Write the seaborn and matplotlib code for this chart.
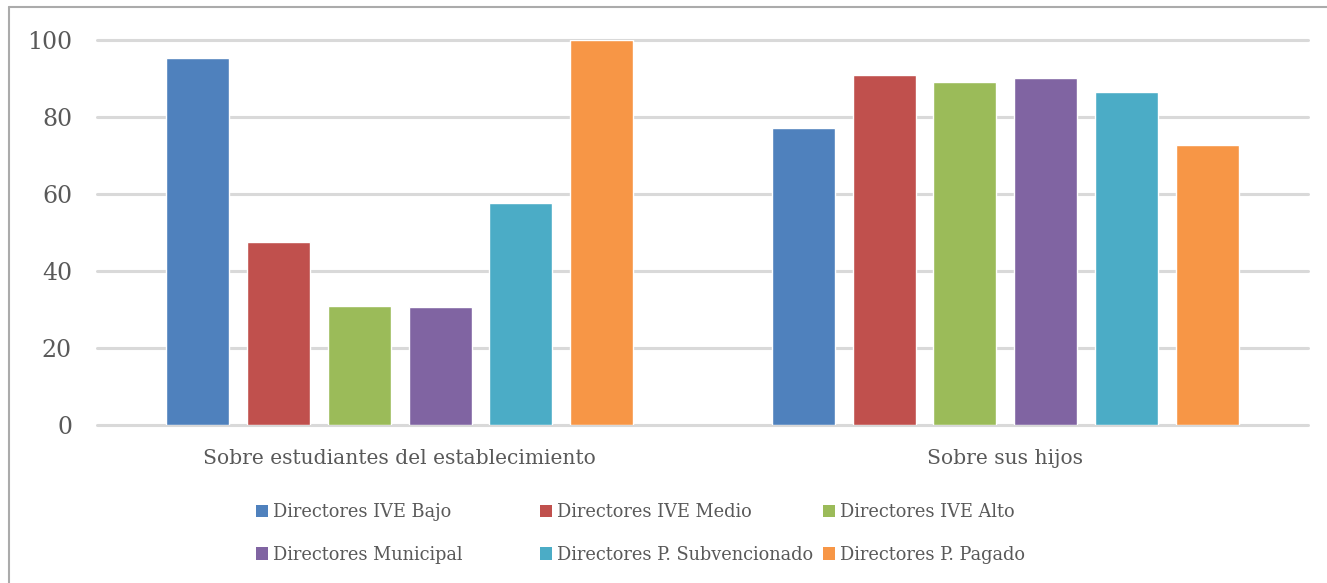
import matplotlib
matplotlib.use("Agg")
import matplotlib.pyplot as plt
import seaborn as sns
import pandas as pd
from matplotlib.patches import Patch

# Data
categories = ["Sobre estudiantes del establecimiento", "Sobre sus hijos"]
series = ["Directores IVE Bajo", "Directores IVE Medio", "Directores IVE Alto",
          "Directores Municipal", "Directores P. Subvencionado", "Directores P. Pagado"]
estudiantes = [95.3, 47.6, 30.9, 30.6, 57.7, 100.0]
hijos = [77.1, 90.8, 89.0, 90.1, 86.6, 72.7]
colors = ["#4F81BD", "#C0504D", "#9BBB59", "#8064A2", "#4BACC6", "#F79646"]
yticks = [0, 20, 40, 60, 80, 100]

text_color = "#595959"
grid_color = "#D9D9D9"

df = pd.DataFrame({
    "categoria": [categories[0]] * len(series) + [categories[1]] * len(series),
    "serie": series * 2,
    "valor": estudiantes + hijos,
})

sns.set_style("white")
plt.rcParams["font.family"] = ["DejaVu Serif"]

fig = plt.figure(figsize=(13.27, 5.83), dpi=100)
ax = fig.add_axes([97 / 1327, 1 - 425 / 583, (1308 - 97) / 1327, (425 - 40) / 583])

sns.barplot(data=df, x="categoria", y="valor", hue="serie", order=categories,
            hue_order=series, palette=colors, width=0.8, gap=0.22,
            saturation=1, legend=False, ax=ax, zorder=3)

ax.set_ylim(0, 100)
ax.set_xlim(-0.5, 1.5)
ax.set_yticks(yticks)
ax.set_yticklabels([str(v) for v in yticks])
for v in yticks:
    ax.axhline(v, color=grid_color, lw=2.2, zorder=1, clip_on=False)
ax.set_xlabel("")
ax.set_ylabel("")
for s in ax.spines.values():
    s.set_visible(False)
ax.tick_params(axis="y", length=0, pad=18, labelsize=17, labelcolor=text_color)
ax.tick_params(axis="x", length=0, pad=17, labelsize=14.6, labelcolor=text_color)

# legend: three columns laid out row-wise like the original
handles = [Patch(facecolor=c, edgecolor="none") for c in colors]
col_x = [256 / 1327, 540 / 1327, 823 / 1327]
for i, x in enumerate(col_x):
    leg = fig.legend([handles[i], handles[i + 3]], [series[i], series[i + 3]],
                     loc="upper left", bbox_to_anchor=(x, 1 - 503 / 583),
                     frameon=False, fontsize=12.8, handlelength=0.7,
                     handleheight=0.7, handletextpad=0.25, borderpad=0,
                     borderaxespad=0, labelspacing=1.4)
    for t in leg.get_texts():
        t.set_color(text_color)

# chart frame (only top and left edges visible in the crop)
fig.add_artist(plt.Line2D([9 / 1327, 1.01], [1 - 7 / 583, 1 - 7 / 583],
                          transform=fig.transFigure, color="#ABABAB", lw=1.5))
fig.add_artist(plt.Line2D([9 / 1327, 9 / 1327], [-0.01, 1 - 7 / 583],
                          transform=fig.transFigure, color="#ABABAB", lw=1.5))

fig.savefig("out.png", dpi=100, facecolor="white")
